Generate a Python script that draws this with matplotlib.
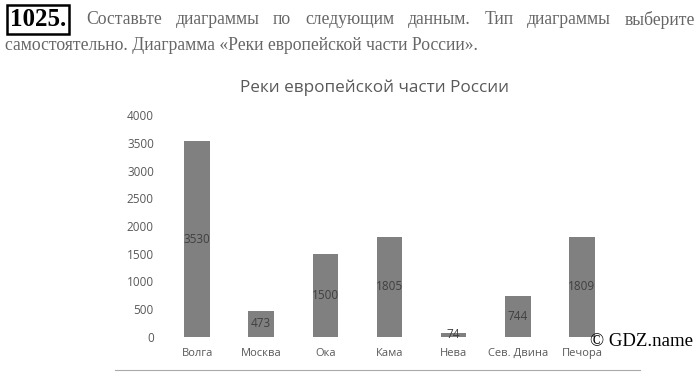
import matplotlib
matplotlib.use("Agg")
import matplotlib.pyplot as plt
from matplotlib.lines import Line2D

rivers = ["Волга", "Москва", "Ока", "Кама", "Нева", "Сев. Двина", "Печора"]
lengths = [3530, 473, 1500, 1805, 74, 744, 1809]
yticks = [0, 500, 1000, 1500, 2000, 2500, 3000, 3500, 4000]
title = "Реки европейской части России"
line1_words = "Составьте диаграммы по следующим данным. Тип диаграммы выберите".split()
line2 = "самостоятельно. Диаграмма «Реки европейской части России»."

W, H = 700, 380
fig = plt.figure(figsize=(7, 3.8), dpi=100)
fig.patch.set_facecolor("white")

def fx(px):
    return px / W

def fy(py):
    return 1 - py / H

ax = fig.add_axes([fx(165), fy(337), fx(614) - fx(165), fy(115) - fy(337)])
xs = list(range(len(rivers)))
ax.bar(xs, lengths, width=0.4, color="#808080", zorder=2)
ax.set_xlim(-0.5, len(rivers) - 0.5)
ax.set_ylim(0, 4000)
ax.set_yticks(yticks)
ax.set_yticklabels([str(t) for t in yticks], fontsize=8.5, color="#595959", family="Open Sans")
ax.set_xticks(xs)
ax.set_xticklabels(rivers, fontsize=8, color="#595959", family="Open Sans")
ax.tick_params(axis="both", length=0)
ax.tick_params(axis="y", pad=8)
ax.tick_params(axis="x", pad=8)
for s in ax.spines.values():
    s.set_visible(False)
ax.set_facecolor("none")
for x, v in zip(xs, lengths):
    ax.text(x, v / 2, str(v), ha="center", va="center", fontsize=8.5,
            color="#404040", family="Open Sans", zorder=3)

fig.text(fx(374), fy(88), title, ha="center", va="center", fontsize=12.3,
         color="#595959", family="Open Sans")

# header
fig.text(fx(10), fy(19), "1025.", ha="left", va="center", fontsize=18, fontweight="bold",
         family="Liberation Serif", color="black",
         bbox=dict(boxstyle="square,pad=0.12", facecolor="white", edgecolor="black", linewidth=1.8))

fig.canvas.draw()
renderer = fig.canvas.get_renderer()
tmp = []
for w in line1_words:
    t = fig.text(0, 0, w, fontsize=12.7, family="Liberation Serif", color="#666666")
    tmp.append(t)
widths = [t.get_window_extent(renderer).width for t in tmp]
x0, x1 = 86, 695
gap = (x1 - x0 - sum(widths)) / (len(widths) - 1)
cur = x0
for t, w in zip(tmp, widths):
    t.set_position((fx(cur), fy(20)))
    t.set_va("center")
    cur += w + gap

fig.text(fx(5), fy(45), line2, ha="left", va="center", fontsize=12.7,
         family="Liberation Serif", color="#666666")

fig.add_artist(Line2D([fx(115), fx(640)], [fy(370), fy(370)], color="#aaaaaa", lw=0.8))
fig.text(fx(590), fy(342), "© GDZ.name", ha="left", va="center", fontsize=13.5,
         family="Liberation Serif", color="black")

fig.savefig("out.png", dpi=100)
